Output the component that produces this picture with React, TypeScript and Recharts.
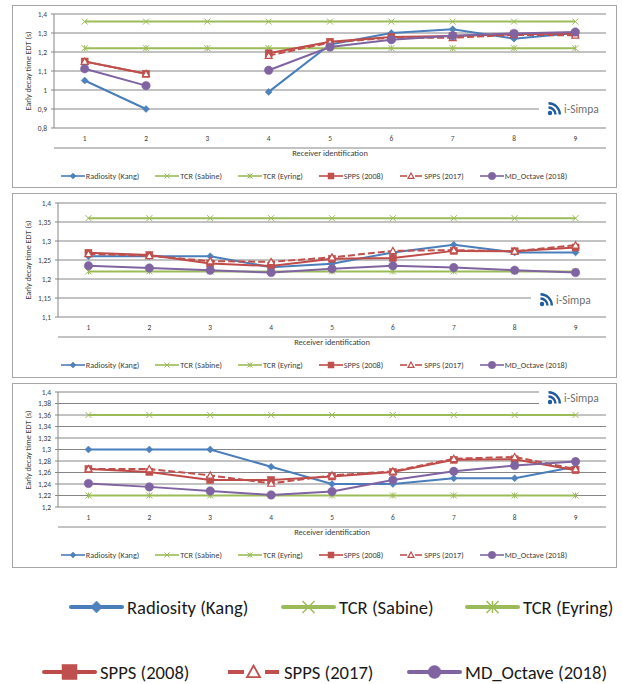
import React from 'react';
import { LineChart, Line, XAxis, YAxis, CartesianGrid } from 'recharts';

const FONT = "Carlito, Calibri, Lato, sans-serif";
const TEXT = '#404040';
const GRID = '#868686';

// ---------- data ----------
const categories = [1, 2, 3, 4, 5, 6, 7, 8, 9];
const categoryBounds = [0.5, 1.5, 2.5, 3.5, 4.5, 5.5, 6.5, 7.5, 8.5, 9.5];
const seriesNames = ['Radiosity (Kang)', 'TCR (Sabine)', 'TCR (Eyring)', 'SPPS (2008)', 'SPPS (2017)', 'MD_Octave (2018)'];

// Panel 1
const p1Ticks = [0.8, 0.9, 1.0, 1.1, 1.2, 1.3, 1.4];
const p1Radiosity = [1.05, 0.9, null, 0.99, 1.24, 1.3, 1.32, 1.27, 1.3];
const p1Sabine = [1.36, 1.36, 1.36, 1.36, 1.36, 1.36, 1.36, 1.36, 1.36];
const p1Eyring = [1.22, 1.22, 1.22, 1.22, 1.22, 1.22, 1.22, 1.22, 1.22];
const p1Spps2008 = [1.15, 1.085, null, 1.193, 1.254, 1.279, 1.284, 1.293, 1.298];
const p1Spps2017 = [1.15, 1.085, null, 1.181, 1.25, 1.275, 1.275, 1.29, 1.288];
const p1Md = [1.112, 1.023, null, 1.104, 1.226, 1.265, 1.286, 1.298, 1.305];

// Panel 2
const p2Ticks = [1.1, 1.15, 1.2, 1.25, 1.3, 1.35, 1.4];
const p2Radiosity = [1.26, 1.26, 1.26, 1.231, 1.24, 1.27, 1.29, 1.27, 1.27];
const p2Sabine = [1.36, 1.36, 1.36, 1.36, 1.36, 1.36, 1.36, 1.36, 1.36];
const p2Eyring = [1.22, 1.22, 1.22, 1.22, 1.22, 1.22, 1.22, 1.22, 1.22];
const p2Spps2008 = [1.269, 1.263, 1.241, 1.234, 1.253, 1.255, 1.274, 1.273, 1.283];
const p2Spps2017 = [1.266, 1.261, 1.247, 1.245, 1.257, 1.274, 1.276, 1.273, 1.289];
const p2Md = [1.235, 1.229, 1.223, 1.217, 1.227, 1.235, 1.23, 1.223, 1.217];

// Panel 3
const p3Ticks = [1.2, 1.22, 1.24, 1.26, 1.28, 1.3, 1.32, 1.34, 1.36, 1.38, 1.4];
const p3Radiosity = [1.3, 1.3, 1.3, 1.27, 1.24, 1.24, 1.25, 1.25, 1.27];
const p3Sabine = [1.36, 1.36, 1.36, 1.36, 1.36, 1.36, 1.36, 1.36, 1.36];
const p3Eyring = [1.22, 1.22, 1.22, 1.22, 1.22, 1.22, 1.22, 1.22, 1.22];
const p3Spps2008 = [1.266, 1.261, 1.247, 1.247, 1.253, 1.261, 1.282, 1.283, 1.264];
const p3Spps2017 = [1.266, 1.266, 1.255, 1.241, 1.255, 1.262, 1.284, 1.287, 1.266];
const p3Md = [1.241, 1.235, 1.228, 1.221, 1.227, 1.247, 1.262, 1.272, 1.279];

const xTitle = 'Receiver identification';
const yTitle = 'Early decay time EDT (s)';

// ---------- styles ----------
type Kind = 'diamond' | 'x' | 'star' | 'square' | 'triangle' | 'circle';
interface SStyle { key: string; color: string; fill: string; kind: Kind; dash?: string; size: number; }
const seriesStyle: SStyle[] = [
  { key: 'radiosity', color: '#4A7EBB', fill: '#4F81BD', kind: 'diamond', size: 7 },
  { key: 'sabine', color: '#9BBB59', fill: '#9BBB59', kind: 'x', size: 6 },
  { key: 'eyring', color: '#9BBB59', fill: '#9BBB59', kind: 'star', size: 6 },
  { key: 'spps2008', color: '#BE4B48', fill: '#C0504D', kind: 'square', size: 7 },
  { key: 'spps2017', color: '#C0504D', fill: '#FFFFFF', kind: 'triangle', dash: '7 3', size: 7 },
  { key: 'md', color: '#8064A2', fill: '#8064A2', kind: 'circle', size: 8.5 },
];

function marker(kind: Kind, cx: number, cy: number, size: number, color: string, fill: string, key: string, sw = 1) {
  const h = size / 2;
  switch (kind) {
    case 'diamond':
      return <polygon key={key} points={`${cx},${cy - h} ${cx + h},${cy} ${cx},${cy + h} ${cx - h},${cy}`} fill={fill} stroke={color} strokeWidth={0.5} />;
    case 'x':
      return (
        <g key={key} stroke={color} strokeWidth={sw}>
          <line x1={cx - h} y1={cy - h} x2={cx + h} y2={cy + h} />
          <line x1={cx - h} y1={cy + h} x2={cx + h} y2={cy - h} />
        </g>
      );
    case 'star':
      return (
        <g key={key} stroke={color} strokeWidth={sw}>
          <line x1={cx - h} y1={cy - h} x2={cx + h} y2={cy + h} />
          <line x1={cx - h} y1={cy + h} x2={cx + h} y2={cy - h} />
          <line x1={cx} y1={cy - h} x2={cx} y2={cy + h} />
        </g>
      );
    case 'square':
      return <rect key={key} x={cx - h} y={cy - h} width={size} height={size} fill={fill} stroke={color} strokeWidth={0.5} />;
    case 'triangle':
      return <polygon key={key} points={`${cx},${cy - h} ${cx + h},${cy + h * 0.8} ${cx - h},${cy + h * 0.8}`} fill="#FFFFFF" stroke={color} strokeWidth={sw * 1.2} />;
    case 'circle':
    default:
      return <circle key={key} cx={cx} cy={cy} r={h} fill={fill} stroke={color} strokeWidth={0.5} />;
  }
}

function buildRows(values: (number | null)[][]) {
  return categories.map((c, i) => {
    const row: Record<string, number | null> = { x: c };
    seriesStyle.forEach((s, j) => {
      row[s.key] = values[j][i];
    });
    return row;
  });
}

const panel1Rows = buildRows([p1Radiosity, p1Sabine, p1Eyring, p1Spps2008, p1Spps2017, p1Md]);
const panel2Rows = buildRows([p2Radiosity, p2Sabine, p2Eyring, p2Spps2008, p2Spps2017, p2Md]);
const panel3Rows = buildRows([p3Radiosity, p3Sabine, p3Eyring, p3Spps2008, p3Spps2017, p3Md]);

const fmt = (v: number) => String(+v.toFixed(2)).replace('.', ',');
const tickFont = { fontSize: 7.4, fill: TEXT, fontFamily: FONT };

function SmallLegend({ centerY }: { centerY: number }) {
  return (
    <div style={{ position: 'absolute', left: 12, width: 604, top: centerY - 6, height: 12, display: 'flex', justifyContent: 'center', alignItems: 'center', gap: 16, fontFamily: FONT, fontSize: 8.2, color: TEXT, whiteSpace: 'nowrap' }}>
      {seriesStyle.map((s, i) => (
        <div key={s.key} style={{ display: 'flex', alignItems: 'center' }}>
          <svg width={24} height={10} style={{ display: 'block', marginRight: 1 }}>
            {s.kind === 'triangle' ? (
              <g stroke={s.color} strokeWidth={1.6}>
                <line x1={1} y1={5} x2={8} y2={5} />
                <line x1={16} y1={5} x2={23} y2={5} />
              </g>
            ) : (
              <line x1={0} y1={5} x2={24} y2={5} stroke={s.color} strokeWidth={1.6} />
            )}
            {marker(s.kind, 12, 5, s.size - 1, s.color, s.fill, 'm', 1)}
          </svg>
          <span>{seriesNames[i]}</span>
        </div>
      ))}
    </div>
  );
}

function Logo({ left, top }: { left: number; top: number }) {
  return (
    <div style={{ position: 'absolute', left, top, width: 616 - 1 - left, height: 18, background: '#FFFFFF', display: 'flex', alignItems: 'center' }}>
      <svg width={16} height={14} style={{ marginLeft: 8, display: 'block' }}>
        <circle cx={3} cy={11} r={2.2} fill="#1F5B9E" />
        <path d="M1.5 5.5 A7 7 0 0 1 8.5 12.5" stroke="#1F5B9E" strokeWidth={2.4} fill="none" />
        <path d="M1.5 1.2 A11.3 11.3 0 0 1 12.8 12.5" stroke="#1F5B9E" strokeWidth={2.4} fill="none" />
      </svg>
      <span style={{ fontFamily: FONT, fontSize: 11.5, color: '#707070', marginLeft: 1 }}>i-Simpa</span>
    </div>
  );
}

interface PanelProps {
  rows: Record<string, number | null>[];
  ticks: number[];
  top: number;
  height: number;
  mTop: number;
  mBottom: number;
  yWidth: number;
  logoLeft: number;
  logoTop: number;
}

function Panel({ rows, ticks, top, height, mTop, mBottom, yWidth, logoLeft, logoTop }: PanelProps) {
  const plotLeft = 12 + yWidth;
  const plotRight = 606;
  const plotTop = top + mTop;
  const plotBottom = top + height - mBottom;
  const marksH = 1;
  const labelsH = 20;
  return (
    <>
      <div style={{ position: 'absolute', left: 12, top, width: 605, height: height + 1, border: '1px solid #A6A6A6', boxSizing: 'border-box', background: '#FFFFFF' }} />
      <div style={{ position: 'absolute', left: 12, top }}>
        <LineChart width={604} height={height} data={rows} margin={{ top: mTop, right: 10, bottom: mBottom - marksH - labelsH, left: 0 }}>
          <CartesianGrid vertical={false} stroke={GRID} strokeWidth={1} xAxisId="labels" />
          <XAxis xAxisId="marks" dataKey="x" type="number" domain={[0.5, 9.5]} ticks={categoryBounds} interval={0} height={marksH} tick={false} tickSize={4} tickLine={{ stroke: GRID }} axisLine={{ stroke: GRID }} />
          <XAxis xAxisId="labels" dataKey="x" type="number" domain={[0.5, 9.5]} ticks={categories} interval={0} height={labelsH} tickSize={0} tickMargin={8} axisLine={false} tickLine={false} tick={tickFont} />
          <YAxis type="number" domain={[ticks[0], ticks[ticks.length - 1]]} ticks={ticks} interval={0} width={yWidth} tickSize={3} tickMargin={4} tickFormatter={fmt} axisLine={{ stroke: GRID }} tickLine={{ stroke: GRID }} tick={tickFont} />
          {seriesStyle.map((s, j) => (
            <Line
              key={s.key}
              xAxisId="labels"
              type="linear"
              dataKey={s.key}
              name={seriesNames[j]}
              stroke={s.color}
              strokeWidth={2}
              strokeDasharray={s.dash}
              isAnimationActive={false}
              activeDot={false}
              dot={(p: any) => {
                const k = `${s.key}-${p.index}`;
                if (p.cx == null || p.cy == null || isNaN(p.cy)) return <g key={k} />;
                return marker(s.kind, p.cx, p.cy, s.size, s.color, s.fill, k, 1);
              }}
            />
          ))}
        </LineChart>
      </div>
      <Logo left={logoLeft} top={logoTop} />
      <div style={{ position: 'absolute', left: 28, top: (plotTop + plotBottom) / 2, transform: 'translate(-50%, -50%) rotate(-90deg)', whiteSpace: 'nowrap', fontFamily: FONT, fontSize: 8.2, color: TEXT }}>{yTitle}</div>
      <div style={{ position: 'absolute', left: (plotLeft + plotRight) / 2, top: plotBottom + 25, transform: 'translate(-50%, -50%)', whiteSpace: 'nowrap', fontFamily: FONT, fontSize: 8.4, color: TEXT }}>{xTitle}</div>
      <SmallLegend centerY={plotBottom + 48} />
    </>
  );
}

const bigLegendPos = [
  [71, 27], [283, 27], [467, 27],
  [44, 92], [228, 92], [409, 92],
];
const bigSizes = [12, 12, 12, 15, 13, 13];

function BigLegend() {
  return (
    <svg width={622} height={104} style={{ position: 'absolute', left: 0, top: 580 }}>
      {seriesStyle.map((s, i) => {
        const [x, y] = bigLegendPos[i];
        const len = 51;
        return (
          <g key={s.key}>
            {s.kind === 'triangle' ? (
              <g stroke={s.color} strokeWidth={4}>
                <line x1={x} y1={y} x2={x + 16} y2={y} />
                <line x1={x + len - 14} y1={y} x2={x + len} y2={y} />
              </g>
            ) : (
              <line x1={x} y1={y} x2={x + len} y2={y} stroke={s.color} strokeWidth={4} strokeLinecap="round" />
            )}
            {marker(s.kind, x + len / 2, y, bigSizes[i], s.color, s.fill, 'b', 1.5)}
            <text x={x + len + 5} y={y} dominantBaseline="central" fontFamily={FONT} fontSize={18.6} fill="#1A1A1A">{seriesNames[i]}</text>
          </g>
        );
      })}
    </svg>
  );
}

export default function App() {
  return (
    <div style={{ position: 'absolute', left: 0, top: 0, width: 622, height: 684, background: '#FFFFFF', overflow: 'hidden' }}>
      <Panel rows={panel1Rows} ticks={p1Ticks} top={5} height={182} mTop={9} mBottom={59} yWidth={42} logoLeft={539} logoTop={100} />
      <Panel rows={panel2Rows} ticks={p2Ticks} top={193} height={184} mTop={10} mBottom={60} yWidth={46} logoLeft={531} logoTop={291} />
      <Panel rows={panel3Rows} ticks={p3Ticks} top={383} height={184} mTop={9} mBottom={60} yWidth={46} logoLeft={539} logoTop={389} />
      <BigLegend />
    </div>
  );
}
